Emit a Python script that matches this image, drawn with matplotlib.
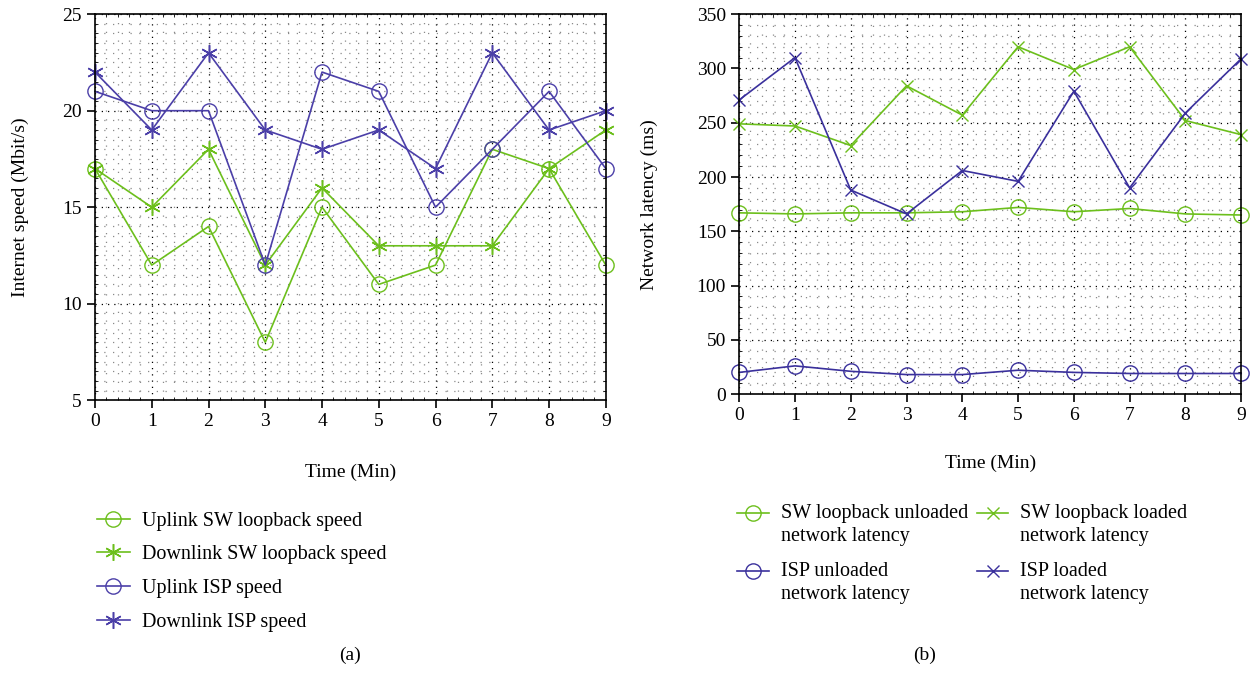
import numpy as np
import matplotlib.pyplot as plt
from matplotlib.ticker import MultipleLocator
from matplotlib.legend_handler import HandlerLine2D

plt.rcParams['font.family'] = ['Liberation Serif', 'DejaVu Serif']
plt.rcParams['font.size'] = 14

t = list(range(10))

# (a) internet speed, Mbit/s
up_sw = [17, 12, 14, 8, 15, 11, 12, 18, 17, 12]
down_sw = [17, 15, 18, 12, 16, 13, 13, 13, 17, 19]
up_isp = [21, 20, 20, 12, 22, 21, 15, 18, 21, 17]
down_isp = [22, 19, 23, 19, 18, 19, 17, 23, 19, 20]

# (b) network latency, ms
sw_unloaded = [167, 166, 167, 167, 168, 172, 168, 171, 166, 165]
sw_loaded = [249, 247, 229, 284, 257, 320, 299, 320, 252, 239]
isp_unloaded = [20, 26, 21, 18, 18, 22, 20, 19, 19, 19]
isp_loaded = [271, 310, 188, 166, 206, 196, 279, 190, 259, 309]

green = '#6cbf1c'
blue = '#4b3fa8'
blue2 = '#3a309c'
star = (6, 2, 0)


class TopHandler(HandlerLine2D):
    # put the handle next to the first line of a two-line label
    def create_artists(self, *args, **kwargs):
        arts = super().create_artists(*args, **kwargs)
        for a in arts:
            a.set_ydata(np.asarray(a.get_ydata()) + 8.5)
        return arts


fig = plt.figure(figsize=(12.55, 6.76), dpi=100)
ax1 = fig.add_axes([0.0757, 0.408, 0.407, 0.571])
ax2 = fig.add_axes([0.589, 0.417, 0.400, 0.562])


def style(ax, ymaj, ymin):
    ax.xaxis.set_major_locator(MultipleLocator(1))
    ax.xaxis.set_minor_locator(MultipleLocator(0.2))
    ax.yaxis.set_major_locator(MultipleLocator(ymaj))
    ax.yaxis.set_minor_locator(MultipleLocator(ymin))
    ax.grid(which='major', color='black', linestyle=(0, (1, 4)), lw=0.9)
    ax.grid(which='minor', color='#8a8a8a', linestyle=(0, (1, 6)), lw=0.9)
    ax.tick_params(which='major', direction='out', length=6, width=1.2)
    ax.tick_params(which='minor', direction='in', length=2.5, top=True, right=True)
    for s in ax.spines.values():
        s.set_linewidth(1.2)
    ax.set_axisbelow(True)


kw = dict(lw=1.2, mfc='none', clip_on=False)
ax1.plot(t, up_sw, color=green, marker='o', ms=11, label='Uplink SW loopback speed', **kw)
ax1.plot(t, down_sw, color=green, marker=star, ms=12, mew=1.1, label='Downlink SW loopback speed', **kw)
ax1.plot(t, up_isp, color=blue, marker='o', ms=11, label='Uplink ISP speed', **kw)
ax1.plot(t, down_isp, color=blue, marker=star, ms=12, mew=1.1, label='Downlink ISP speed', **kw)
ax1.set_xlim(0, 9)
ax1.set_ylim(5, 25)
style(ax1, 5, 0.5)
ax1.set_ylabel('Internet speed (Mbit/s)', labelpad=24)
ax1.set_xlabel('Time (Min)', labelpad=24)
ax1.legend(loc='upper left', bbox_to_anchor=(0.069, 0.258), bbox_transform=fig.transFigure,
           frameon=False, fontsize=14.5, handlelength=1.65, handletextpad=0.6,
           labelspacing=0.72, borderpad=0)

ax2.plot(t, sw_unloaded, color=green, marker='o', ms=11, label='SW loopback unloaded\nnetwork latency', **kw)
ax2.plot(t, isp_unloaded, color=blue2, marker='o', ms=11, label='ISP unloaded\nnetwork latency', **kw)
ax2.plot(t, sw_loaded, color=green, marker='x', ms=9, label='SW loopback loaded\nnetwork latency', **kw)
ax2.plot(t, isp_loaded, color=blue2, marker='x', ms=9, label='ISP loaded\nnetwork latency', **kw)
ax2.set_xlim(0, 9)
ax2.set_ylim(0, 350)
style(ax2, 50, 10)
ax2.set_ylabel('Network latency (ms)', labelpad=28)
ax2.set_xlabel('Time (Min)', labelpad=22)
leg = ax2.legend(loc='upper left', bbox_to_anchor=(0.5795, 0.269), bbox_transform=fig.transFigure,
                 ncol=2, frameon=False, fontsize=14.5, handlelength=1.55, handletextpad=0.6,
                 labelspacing=0.78, columnspacing=0.45, borderpad=0,
                 handler_map={plt.Line2D: TopHandler()})
for tx in leg.get_texts():
    tx.set_linespacing(1.3)

fig.text(0.279, 0.024, '(a)', ha='center', fontsize=14)
fig.text(0.737, 0.024, '(b)', ha='center', fontsize=14)

fig.savefig('out.png', dpi=100)
